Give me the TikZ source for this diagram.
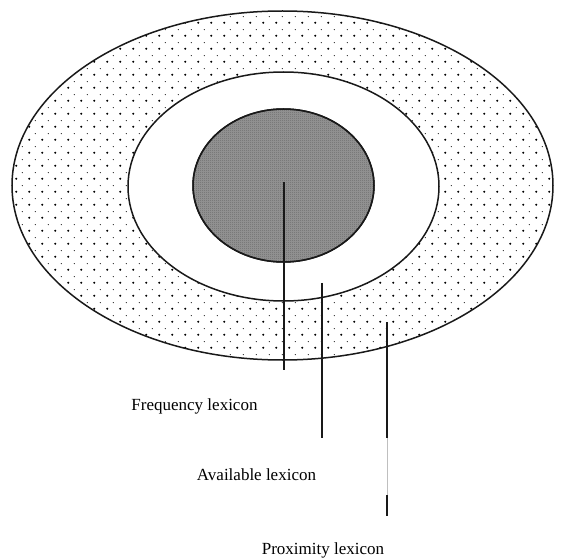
\documentclass[tikz,border=0pt]{standalone}
\usepackage{fontspec}
\setmainfont{Liberation Serif}
\usetikzlibrary{patterns.meta}
\tikzdeclarepattern{
  name=lexdots,
  bottom left={(0pt,0pt)},
  top right={(13pt,13pt)},
  tile size={(13pt,13pt)},
  code={
    \fill[black!80] (3.5pt,3.5pt) circle (1.1pt);
    \fill[black!85] (10pt,10pt) circle (0.6pt);
  }
}
\tikzdeclarepattern{
  name=lexcheck,
  bottom left={(0pt,0pt)},
  top right={(2pt,2pt)},
  tile size={(2pt,2pt)},
  code={
    \fill (0pt,0pt) rectangle (1pt,1pt);
    \fill (1pt,1pt) rectangle (2pt,2pt);
  }
}

\begin{document}
\begin{tikzpicture}[x=1pt,y=-1pt,
  ring/.style={draw=black!90,line width=1.5pt},
  lead/.style={draw=black!90,line width=1.6pt},
  lab/.style={font=\fontsize{17}{20}\selectfont,inner sep=0pt}]
  \useasboundingbox (0,0) rectangle (563,559);
  % lexicon rings
  \fill[white] (0,0) rectangle (563,559);
  \path[ring,pattern={lexdots}] (282.5,185.5) ellipse [x radius=270.5,y radius=174.5];
  \path[ring,fill=white] (283.5,186.5) ellipse [x radius=155.5,y radius=114.5];
  \path[ring,fill=black!40] (283.5,185.5) ellipse [x radius=90.5,y radius=76.5];
  \path[pattern={lexcheck},pattern color=black!65] (283.5,185.5) ellipse [x radius=90,y radius=76];
  \path[ring] (283.5,185.5) ellipse [x radius=90.5,y radius=76.5];
  % labels
  \node[lab] (freq) at (194.5,406) {Frequency lexicon};
  \node[lab] (avail) at (256.5,475) {Available lexicon};
  \node[lab] (prox) at (323,550) {Proximity lexicon};
  % leader lines
  \coordinate (f1) at (284,182); \coordinate (f2) at (284,370);
  \coordinate (a1) at (322,283); \coordinate (a2) at (322,438);
  \coordinate (p1) at (387,322); \coordinate (p2) at (387,438);
  \coordinate (p3) at (387,495); \coordinate (p4) at (387,516);
  \draw[lead,line width=2.2pt] (f1) -- (f2);
  \draw[lead] (a1) -- (a2);
  \draw[lead] (p1) -- (p2);
  \draw[black!25,line width=0.8pt] (p2) -- (p3);
  \draw[lead] (p3) -- (p4);
\end{tikzpicture}
\end{document}
